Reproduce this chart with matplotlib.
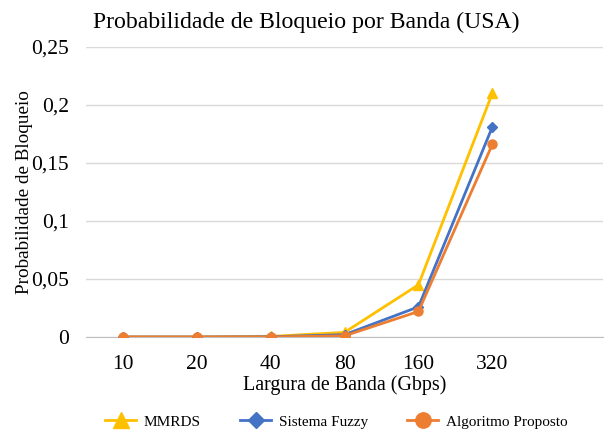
import matplotlib.pyplot as plt
from matplotlib.ticker import FuncFormatter

# dados
bandas = ['10', '20', '40', '80', '160', '320']
mmrds = [0.0, 0.0, 0.0005, 0.004, 0.045, 0.210]
fuzzy = [0.0, 0.0, 0.0002, 0.002, 0.026, 0.181]
proposto = [0.0, 0.0, 0.0001, 0.001, 0.022, 0.166]
yticks = [0, 0.05, 0.1, 0.15, 0.2, 0.25]

plt.rcParams['font.family'] = ['Liberation Serif', 'DejaVu Serif']

fig = plt.figure(figsize=(6.05, 4.33), dpi=100)
ax = fig.add_axes([0.142, 0.2217, 0.855, 0.67])

x = range(len(bandas))
ax.plot(x, mmrds, color='#FFC000', lw=2, marker='^', ms=7, label='MMRDS')
ax.plot(x, fuzzy, color='#4472C4', lw=2, marker='D', ms=5, label='Sistema Fuzzy')
ax.plot(x, proposto, color='#ED7D31', lw=2, marker='o', ms=6.5, label='Algoritmo Proposto')

ax.set_xlim(-0.5, 6.5)
ax.set_ylim(0, 0.25)
ax.set_xticks(list(x))
ax.set_xticklabels(bandas)
ax.set_yticks(yticks)
ax.yaxis.set_major_formatter(FuncFormatter(lambda v, p: ('%g' % v).replace('.', ',')))
ax.tick_params(length=0, labelsize=15.5, colors='#000000')
ax.tick_params(axis='y', pad=12)
ax.tick_params(axis='x', pad=13)
ax.grid(axis='y', color='#d9d9d9', lw=1)
ax.set_axisbelow(True)
for s in ['top', 'right', 'left']:
    ax.spines[s].set_visible(False)
ax.spines['bottom'].set_color('#bfbfbf')
ax.spines['bottom'].set_zorder(0.5)

ax.set_xlabel('Largura de Banda (Gbps)', fontsize=14.4, labelpad=1)
ax.set_ylabel('Probabilidade de Bloqueio', fontsize=13.8, labelpad=-1)
fig.text(0.153, 0.948, 'Probabilidade de Bloqueio por Banda (USA)', fontsize=17.1, va='center')

fig.legend(loc='lower center', bbox_to_anchor=(0.556, -0.022), ncol=3, frameon=False,
           fontsize=11, columnspacing=2.6, handlelength=2, handletextpad=0.5,
           markerscale=1.7)

fig.savefig('out.png')
